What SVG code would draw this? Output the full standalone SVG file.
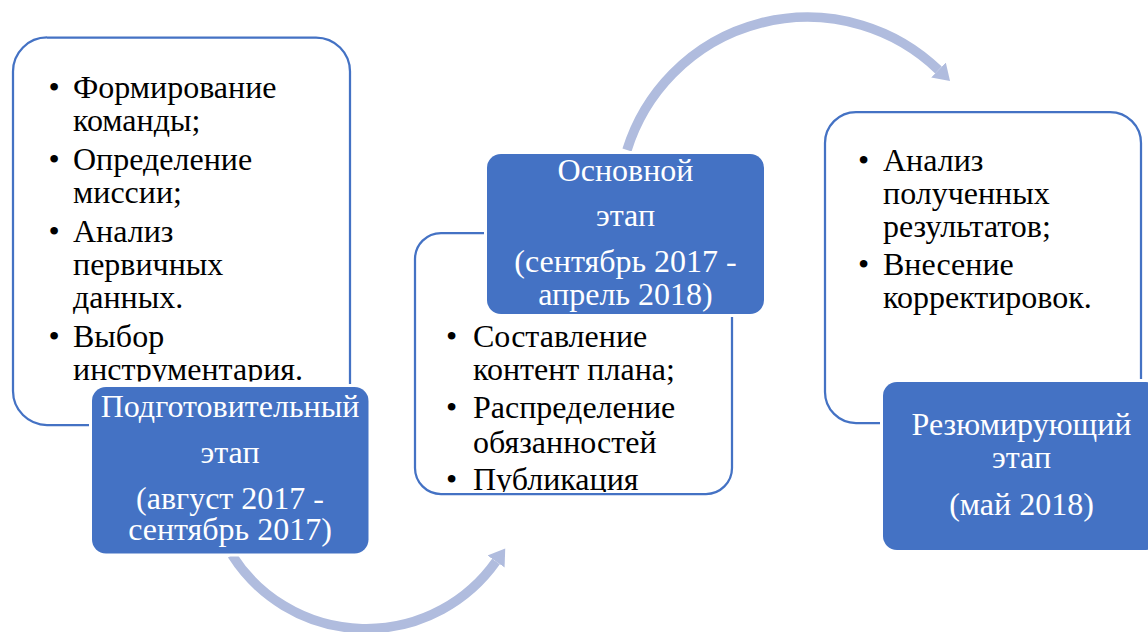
<svg xmlns="http://www.w3.org/2000/svg" width="1148" height="632" viewBox="0 0 1148 632">
<style>
.card{fill:#ffffff;stroke:#4472C4;stroke-width:2.25}
.tag{fill:#4472C4;stroke:#ffffff;stroke-width:6;paint-order:stroke}
.txt{font-family:"Liberation Serif","Times New Roman",serif;font-size:32px;fill:#000000}
.wt{font-family:"Liberation Serif","Times New Roman",serif;font-size:32px;fill:#ffffff;text-anchor:middle}
.arc{fill:none;stroke:#B0BCDE;stroke-width:9.5}
</style>
<defs>
<marker id="head" markerUnits="userSpaceOnUse" markerWidth="20" markerHeight="26" refX="0" refY="12" orient="auto" viewBox="0 0 20 24">
<path d="M0,1.5 L16,12 L0,22.5 Z" fill="#B0BCDE"/>
</marker>
<clipPath id="c1"><rect x="14" y="38" width="336" height="343.5"/></clipPath>
<clipPath id="c2"><rect x="416" y="234" width="315" height="258"/></clipPath>
</defs>
<g id="connectors">
<path class="arc" d="M232,555 A159,159 0 0,0 496,561.5" marker-end="url(#head)"/>
<path class="arc" d="M627,150 A189,189 0 0,1 938.5,70" marker-end="url(#head)"/>
</g>
<g id="node1-details">
<rect class="card" x="13" y="37.5" width="337" height="387.5" rx="34"/>
<g clip-path="url(#c1)" class="txt">
<text x="48.5" y="98">•</text><text x="73" y="98">Формирование</text>
<text x="73" y="131">команды;</text>
<text x="48.5" y="170">•</text><text x="73" y="170">Определение</text>
<text x="73" y="203">миссии;</text>
<text x="48.5" y="242">•</text><text x="73" y="242">Анализ</text>
<text x="73" y="275">первичных</text>
<text x="73" y="308">данных.</text>
<text x="48.5" y="347">•</text><text x="73" y="347">Выбор</text>
<text x="73" y="380">инструментария.</text>
</g>
</g>
<g id="node1-stage">
<rect class="tag" x="92" y="387" width="276.5" height="166.5" rx="14"/>
<text class="wt" x="230" y="417">Подготовительный</text>
<text class="wt" x="230" y="463">этап</text>
<text class="wt" x="230" y="508.5">(август 2017 -</text>
<text class="wt" x="230" y="539.5">сентябрь 2017)</text>
</g>
<g id="node2-details">
<rect class="card" x="415" y="233" width="317" height="261" rx="26"/>
<g clip-path="url(#c2)" class="txt">
<text x="446" y="347">•</text><text x="473" y="347">Составление</text>
<text x="473" y="380">контент плана;</text>
<text x="446" y="418">•</text><text x="473" y="418">Распределение</text>
<text x="473" y="453">обязанностей</text>
<text x="446" y="490">•</text><text x="473" y="490">Публикация</text>
</g>
</g>
<g id="node2-stage">
<rect class="tag" x="487" y="154" width="277" height="160" rx="14"/>
<text class="wt" x="625.5" y="181">Основной</text>
<text class="wt" x="625.5" y="226">этап</text>
<text class="wt" x="625.5" y="272">(сентябрь 2017 -</text>
<text class="wt" x="625.5" y="305">апрель 2018)</text>
</g>
<g id="node3-details">
<rect class="card" x="825" y="112" width="316" height="311" rx="31"/>
<g class="txt">
<text x="858" y="171">•</text><text x="883" y="171">Анализ</text>
<text x="883" y="204">полученных</text>
<text x="883" y="237">результатов;</text>
<text x="858" y="275">•</text><text x="883" y="275">Внесение</text>
<text x="883" y="308">корректировок.</text>
</g>
</g>
<g id="node3-stage">
<rect class="tag" x="883" y="382" width="277" height="168" rx="14"/>
<text class="wt" x="1021.5" y="435">Резюмирующий</text>
<text class="wt" x="1021.5" y="468">этап</text>
<text class="wt" x="1021.5" y="515">(май 2018)</text>
</g>
</svg>
